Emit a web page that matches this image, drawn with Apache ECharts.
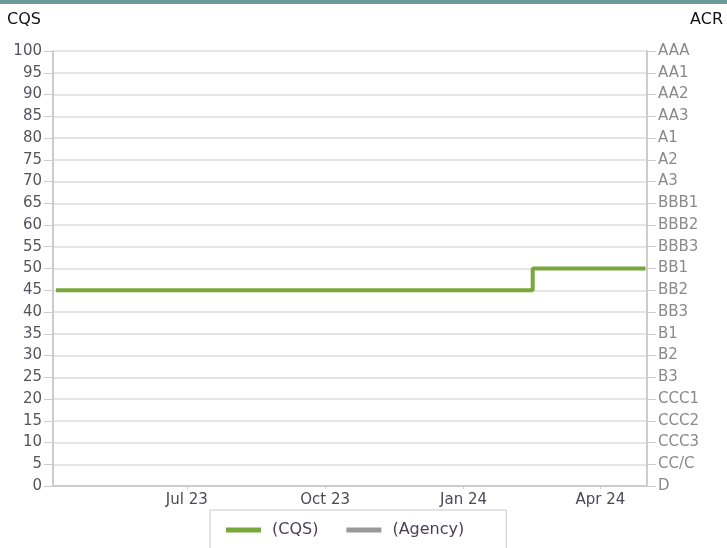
<!DOCTYPE html>
<html><head><meta charset="utf-8">
<script src="https://cdn.jsdelivr.net/npm/echarts@6/dist/echarts.min.js"></script>
<style>html,body{margin:0;padding:0;background:#fff}#c{width:727px;height:548px}</style>
</head><body><div id="c"></div>
<script>
const cqsDates = ['2023-04-05', '2024-02-16', '2024-05-01'];
const cqsValues = [45, 50, 50];
const agencyDates = [];
const agencyValues = [];
const xTickDates = ['2023-07-01', '2023-10-01', '2024-01-01', '2024-04-01'];
const xTickLabels = ['Jul 23', 'Oct 23', 'Jan 24', 'Apr 24'];
const ratingLabels = ['D','CC/C','CCC3','CCC2','CCC1','B3','B2','B1','BB3','BB2','BB1','BBB3','BBB2','BBB1','A3','A2','A1','AA3','AA2','AA1','AAA'];
const xMin = '2023-04-03', xMax = '2024-05-02';

const ts = d => new Date(d + 'T00:00:00Z').getTime();
const tickTs = xTickDates.map(ts);
const font = '"DejaVu Sans", sans-serif';

const chart = echarts.init(document.getElementById('c'), null, {renderer: 'canvas'});
chart.setOption({
  animation: false,
  grid: {left: 53, right: 80, top: 51, bottom: 62, containLabel: false},
  graphic: [
    {type: 'rect', left: 0, top: 0, shape: {width: 727, height: 4}, style: {fill: '#6b9b96'}},
    {type: 'text', left: 7, top: 12, style: {text: 'CQS', font: '16px ' + font, fill: '#111'}},
    {type: 'text', right: 4, top: 12, style: {text: 'ACR', font: '16px ' + font, fill: '#111'}}
  ],
  legend: {
    left: 210, top: 510,
    padding: [12, 42, 24, 16],
    borderColor: '#c8c8c8', borderWidth: 1,
    itemWidth: 35, itemHeight: 5, itemGap: 28,
    icon: 'rect',
    textStyle: {fontFamily: font, fontSize: 16, color: '#4a4058', padding: [0, 0, 0, 6]},
    data: ['(CQS)', '(Agency)']
  },
  xAxis: {
    type: 'value', min: ts(xMin), max: ts(xMax),
    axisLine: {onZero: false, lineStyle: {color: '#cccccc', width: 2}},
    axisTick: {show: true, length: 3, lineStyle: {color: '#cccccc'}, customValues: tickTs},
    axisLabel: {
      customValues: tickTs, margin: 7,
      fontFamily: font, fontSize: 15, color: '#4a4a55',
      formatter: v => { const i = tickTs.indexOf(v); return i >= 0 ? xTickLabels[i] : ''; }
    },
    splitLine: {show: false}
  },
  yAxis: [
    {
      type: 'value', min: 0, max: 100, interval: 5, position: 'left',
      axisLine: {show: true, lineStyle: {color: '#cccccc', width: 2}},
      axisTick: {show: true, length: 9, lineStyle: {color: '#cccccc'}},
      axisLabel: {fontFamily: font, fontSize: 15, color: '#555560', margin: 11},
      splitLine: {show: true, lineStyle: {color: '#dcdcdc', width: 1.5}}
    },
    {
      type: 'value', min: 0, max: 100, interval: 5, position: 'right',
      axisLine: {show: true, lineStyle: {color: '#cccccc', width: 2}},
      axisTick: {show: true, length: 9, lineStyle: {color: '#cccccc'}},
      axisLabel: {fontFamily: font, fontSize: 15, color: '#8a8a8a', margin: 11,
        formatter: v => ratingLabels[Math.round(v / 5)] || ''},
      splitLine: {show: false}
    }
  ],
  series: [
    {
      name: '(CQS)', type: 'line', step: 'end', showSymbol: false,
      color: '#78a83b',
      lineStyle: {width: 4, color: '#78a83b'},
      data: cqsDates.map((d, i) => [ts(d), cqsValues[i]])
    },
    {
      name: '(Agency)', type: 'line', step: 'end', showSymbol: false,
      color: '#999999',
      lineStyle: {width: 4, color: '#999999'},
      data: agencyDates.map((d, i) => [ts(d), agencyValues[i]])
    }
  ]
});
</script></body></html>
